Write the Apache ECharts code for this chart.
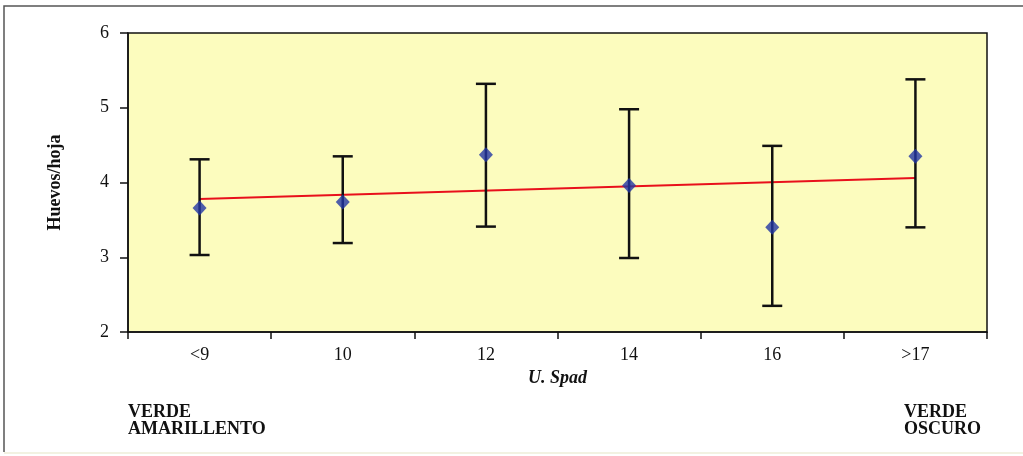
<!DOCTYPE html>
<html>
<head>
<meta charset="utf-8">
<script src="https://cdn.jsdelivr.net/npm/echarts@6/dist/echarts.min.js"></script>
<style>
html,body{margin:0;padding:0;background:#fff;}
#chart{width:1023px;height:456px;}
</style>
</head>
<body>
<div id="chart"></div>
<script>
// categorias de U. Spad
const categories = ['<9', '10', '12', '14', '16', '>17'];
// media de huevos por hoja
const means = [3.66, 3.74, 4.37, 3.96, 3.40, 4.35];
const lows = [3.03, 3.19, 3.41, 2.99, 2.35, 3.40];
const highs = [4.31, 4.35, 5.32, 4.98, 4.49, 5.38];
// recta de tendencia (extremos)
const trend = [3.78, null, null, null, null, 4.06];

const serif = 'Liberation Serif';
const chart = echarts.init(document.getElementById('chart'));

const errData = categories.map((c, i) => [i, lows[i], highs[i]]);

chart.setOption({
  animation: false,
  grid: {
    left: 128, top: 33, right: 36, bottom: 124,
    show: true,
    backgroundColor: '#fcfcbe',
    borderColor: '#111',
    borderWidth: 1.5
  },
  xAxis: {
    type: 'category',
    data: categories,
    boundaryGap: true,
    name: 'U. Spad',
    nameLocation: 'middle',
    nameGap: 37,
    nameTextStyle: {fontFamily: serif, fontSize: 18, fontWeight: 'bold', fontStyle: 'italic', color: '#111'},
    axisLine: {lineStyle: {color: '#111', width: 1.5}},
    axisTick: {show: true, length: 7, inside: false, lineStyle: {color: '#111', width: 1.5}},
    axisLabel: {fontFamily: serif, fontSize: 18, color: '#111', margin: 14}
  },
  yAxis: {
    type: 'value',
    min: 2, max: 6, interval: 1,
    name: 'Huevos/hoja',
    nameLocation: 'middle',
    nameGap: 64,
    nameTextStyle: {fontFamily: serif, fontSize: 18, fontWeight: 'bold', color: '#111'},
    axisLine: {show: true, lineStyle: {color: '#111', width: 1.5}},
    axisTick: {show: true, length: 8, lineStyle: {color: '#111', width: 1.5}},
    splitLine: {show: false},
    axisLabel: {fontFamily: serif, fontSize: 18, color: '#111', margin: 19}
  },
  series: [
    {
      type: 'line',
      data: trend,
      connectNulls: true,
      symbol: 'none',
      lineStyle: {color: '#e8101c', width: 2},
      z: 2
    },
    {
      type: 'custom',
      data: errData,
      renderItem: function (params, api) {
        const lo = api.coord([api.value(0), api.value(1)]);
        const hi = api.coord([api.value(0), api.value(2)]);
        const w = 10;
        const st = {stroke: '#111', lineWidth: 2.5};
        return {
          type: 'group',
          children: [
            {type: 'line', shape: {x1: hi[0], y1: hi[1], x2: lo[0], y2: lo[1]}, style: st},
            {type: 'line', shape: {x1: hi[0] - w, y1: hi[1], x2: hi[0] + w, y2: hi[1]}, style: st},
            {type: 'line', shape: {x1: lo[0] - w, y1: lo[1], x2: lo[0] + w, y2: lo[1]}, style: st}
          ]
        };
      },
      z: 3
    },
    {
      type: 'scatter',
      data: means,
      symbol: 'diamond',
      symbolSize: [14, 15],
      itemStyle: {color: '#2236a4'},
      z: 4
    }
  ],
  graphic: [
    {
      type: 'polyline',
      shape: {points: [[4, 452], [4, 6], [1023, 6]]},
      style: {fill: 'none', stroke: '#555', lineWidth: 1.5},
      z: -1
    },
    {
      type: 'line',
      shape: {x1: 4, y1: 453, x2: 1023, y2: 453},
      style: {stroke: '#eeeed8', lineWidth: 1.5},
      z: -1
    },
    {
      type: 'text', left: 128, top: 403,
      style: {text: 'VERDE\nAMARILLENTO', font: 'bold 18px "Liberation Serif"', fill: '#111', lineHeight: 17}
    },
    {
      type: 'text', left: 904, top: 403,
      style: {text: 'VERDE\nOSCURO', font: 'bold 18px "Liberation Serif"', fill: '#111', lineHeight: 17}
    }
  ]
});
</script>
</body>
</html>
